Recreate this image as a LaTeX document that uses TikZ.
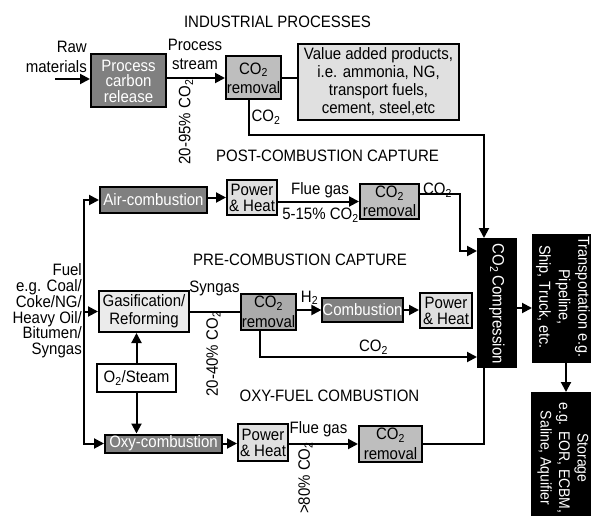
\documentclass[tikz,border=0pt]{standalone}
\usepackage{fontspec}
\setmainfont{Liberation Sans}[FakeStretch=0.91]
\usetikzlibrary{arrows.meta}
\definecolor{dkgray}{HTML}{808080}
\definecolor{mdgray}{HTML}{BEBEBE}
\definecolor{mdgrayB}{HTML}{ABABAB}
\definecolor{ltgray}{HTML}{E0E0E0}
\definecolor{vltgray}{HTML}{EBEBEB}
\newcommand\cotwo{CO\textsubscript{2}}
\begin{document}
\begin{tikzpicture}[x=1pt,y=-1pt,
  every node/.style={font=\fontsize{16.5}{17}\selectfont, inner sep=0pt},
  box/.style={draw, line width=2pt, align=center},
  darkbox/.style={box, fill=dkgray, text=white},
  midbox/.style={box, fill=mdgray, font=\fontsize{16.5}{19.5}\selectfont},
  midboxB/.style={box, fill=mdgrayB, font=\fontsize{16.5}{19.5}\selectfont},
  ltbox/.style={box, fill=ltgray},
  vltbox/.style={box, fill=vltgray},
  wbox/.style={box, fill=white},
  blkbox/.style={draw, line width=2pt, fill=black},
  whitetext/.style={text=white},
  phbox/.style={ltbox, font=\fontsize{16.5}{16}\selectfont},
  ln/.style={line width=2pt},
  arr/.style={line width=2pt, -{Triangle[length=10pt,width=10pt]}},
  ttl/.style={font=\fontsize{16.5}{17}\selectfont}
]
\fill[white] (0,0) rectangle (591,516);
\useasboundingbox (0,0) rectangle (591,516);

% titles
\node[ttl] (t1) at (277.5,22) {INDUSTRIAL PROCESSES};
\node[ttl] (t2) at (327.5,156) {POST-COMBUSTION CAPTURE};
\node[ttl] (t3) at (300,260) {PRE-COMBUSTION CAPTURE};
\node[ttl] (t4) at (329.5,396) {OXY-FUEL COMBUSTION};

% black boxes
\node[blkbox, minimum width=38pt, minimum height=128pt] (comp) at (497,303) {};
\node[whitetext, rotate=-90] (compT) at (497,304) {\cotwo\,Compression};
\node[blkbox, minimum width=66pt, minimum height=127pt] (trans) at (566,298.5) {};
\node[whitetext, rotate=-90, align=center, font=\fontsize{15.9}{19.5}\selectfont] (transT) at (563,297)
  {Transportation e.g.\\Pipeline,\\Ship, Truck, etc.};
\node[blkbox, minimum width=68pt, minimum height=147pt] (stor) at (566,466.5) {};
\node[whitetext, rotate=-90, align=center, font=\fontsize{15.4}{18.5}\selectfont] (storT) at (563,458)
  {Storage\\e.g. EOR, ECBM,\\Saline, Aquifier};
\draw[arr] ([yshift=-5pt]comp.east) -- ([yshift=-5pt]comp.east -| trans.west);
\draw[arr] (trans.south) -- (trans.south |- stor.north);

% industrial
\node[darkbox, minimum width=75pt, minimum height=53pt, font=\fontsize{16.5}{15.5}\selectfont] (pcr) at (128.5,81) {Process\\carbon\\release};
\node[midbox, minimum width=55pt, minimum height=43pt, font=\fontsize{16.5}{19}\selectfont] (rem1) at (253.5,78) {\cotwo\\removal};
\node[ltbox, minimum width=161pt, minimum height=76pt, font=\fontsize{16.5}{18}\selectfont] (val) at (378.5,82) {Value added products,\\i.e. ammonia, NG,\\transport fuels,\\cement, steel,etc};
\node[align=right, anchor=east, font=\fontsize{16.5}{20}\selectfont] (raw) at (87,57) {Raw\\materials};
\coordinate (rawin) at (55,79);
\draw[arr] (rawin) -- (rawin -| pcr.west);
\node[align=center, font=\fontsize{16.5}{19}\selectfont] (ps) at (195,54) {Process\\stream};
\draw[arr] (pcr.east |- rem1) -- (rem1.west);
\draw[ln] (rem1.east) -- (rem1.east -| val.west);
\node[rotate=90] (l1) at (186,122) {20-95\% \cotwo};
\node (c1) at (266,117) {\cotwo};
\coordinate (ind) at (484,135);
\draw[arr] ([xshift=-4.5pt]rem1.south) |- (ind) -- (ind |- comp.north);

% post-combustion
\node[darkbox, minimum width=107pt, minimum height=26pt] (air) at (153.5,200) {Air-combustion};
\node[phbox, minimum width=50pt, minimum height=35pt] (ph1) at (252,197.5) {Power\\\& Heat};
\draw[arr] (air.east |- ph1) -- (ph1.west);
\node[midbox, minimum width=59pt, minimum height=35pt] (rem2) at (389.5,201.5) {\cotwo\\removal};
\draw[arr] (ph1.east |- rem2) -- (rem2.west);
\node (fg1) at (320,190) {Flue gas};
\node (pc1) at (320.5,215) {5-15\% \cotwo};
\node (c2) at (437.5,190.5) {\cotwo};
\coordinate (p2) at (460,251);
\draw[arr] ([yshift=8pt]rem2.east) -| (p2) -- (p2 -| comp.west);

% pre-combustion
\node[vltbox, minimum width=90pt, minimum height=41pt, font=\fontsize{16.5}{18}\selectfont] (gas) at (144,311.5) {Gasification/\\Reforming};
\node[midboxB, minimum width=55pt, minimum height=36pt] (rem3) at (268.5,312) {\cotwo\\removal};
\draw[ln] (gas.east) -- (gas.east -| rem3.west);
\node (syn) at (214.5,288) {Syngas};
\node[rotate=90] (l2) at (213.5,354) {20-40\% \cotwo};
\node[darkbox, minimum width=79pt, minimum height=24pt] (comb) at (362.5,310) {Combustion};
\draw[arr] (rem3.east |- comb) -- (comb.west);
\node (h2) at (309.5,298) {H\textsubscript{2}};
\node[phbox, minimum width=52pt, minimum height=35pt] (ph2) at (446,310.5) {Power\\\& Heat};
\draw[arr] (comb.east) -- (comb.east -| ph2.west);
\coordinate (p3) at (260,357);
\draw[arr] (rem3.south -| p3) -- (p3) -- (p3 -| comp.west);
\node (c3) at (373.5,347) {\cotwo};

% oxy-fuel
\node[wbox, minimum width=79pt, minimum height=28pt] (o2) at (136.5,378) {O\textsubscript{2}/Steam};
\draw[arr] (o2.north) -- (o2.north |- gas.south);
\node[darkbox, minimum width=117pt, minimum height=18pt] (oxy) at (163.5,443.5) {Oxy-combustion};
\draw[arr] (o2.south) -- (o2.south |- oxy.north);
\node[phbox, minimum width=50pt, minimum height=37pt] (ph3) at (263,442.5) {Power\\\& Heat};
\draw[arr] (oxy.east) -- (oxy.east -| ph3.west);
\node[midbox, minimum width=63pt, minimum height=36pt] (rem4) at (390.5,444) {\cotwo\\removal};
\draw[arr] (ph3.east |- rem4) -- (rem4.west);
\node (fg2) at (318.5,429.5) {Flue gas};
\node[rotate=90] (l3) at (305.5,478) {>80\% \cotwo};
\coordinate (p4) at (484,444);
\draw[ln] (rem4.east) -- (p4) -- (p4 |- comp.south);

% fuel
\node[align=right, anchor=east, font=\fontsize{16.5}{15.8}\selectfont] (fuel) at (82,311) {Fuel\\e.g. Coal/\\Coke/NG/\\Heavy Oil/\\Bitumen/\\Syngas};
\coordinate (fmid) at (84,311.5);
\draw[arr] (fmid) |- (air.west);
\draw[arr] (fmid) |- (oxy.west);
\draw[arr] (fmid) -- (gas.west);
\end{tikzpicture}
\end{document}
